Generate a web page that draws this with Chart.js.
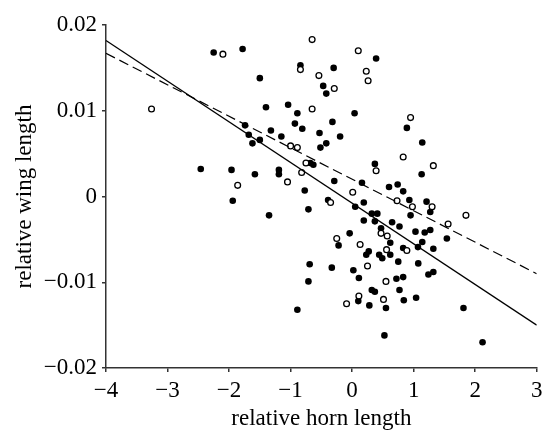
<!DOCTYPE html>
<html>
<head>
<meta charset="utf-8">
<script src="https://cdn.jsdelivr.net/npm/chart.js@4"></script>
<style>
  html, body { margin: 0; padding: 0; background: #fff; }
  #c { display: block; }
</style>
</head>
<body>
<canvas id="c" width="542" height="430"></canvas>
<script>
// filled circles
const filledX = [-2.25, -1.78, -1.50, -1.40, -1.04, -0.89, -0.93, -0.81, -1.74, -1.68,
  -1.62, -1.50, -1.32, -1.15, -2.46, -1.96, -1.58, -1.19, -1.19, -0.77,
  -1.94, -0.68, -0.63, -0.84, 0.39, -0.30, -0.47, -0.42, -0.32, 0.04,
  -0.53, -0.195, -0.42, -0.515, -0.29, 0.37, 0.16, 0.60, -0.39, 0.89,
  1.14, 1.13, 0.74, 0.83, 0.93, 1.21, 0.19, 0.05, -0.71, -1.35,
  -0.69, -0.71, -0.89, 0.32, 0.41, 0.95, 0.19, 0.37, 0.65, 0.77,
  0.47, 1.03, 1.18, 1.27, -0.04, -0.22, 0.62, 1.54, 1.14, 0.83,
  1.07, 1.32, 0.27, 0.23, 0.44, 0.49, 0.62, 0.75, 1.075, -0.33,
  0.02, 0.11, 0.72, 0.83, 1.24, 1.32, 0.32, 0.37, 0.77, 1.04,
  0.84, 0.10, 0.28, 0.55, 1.81, 0.525, 2.12, 1.27];
const filledY = [0.0168, 0.0172, 0.0138, 0.0104, 0.0107, 0.0097, 0.0085, 0.0079, 0.0083, 0.0072,
  0.0062, 0.0066, 0.0077, 0.0070, 0.0032, 0.0031, 0.0026, 0.0031, 0.0026, 0.0007,
  -0.0005, 0.0039, 0.0037, 0.0153, 0.0161, 0.0150, 0.0129, 0.0120, 0.0087, 0.0097,
  0.0074, 0.0070, 0.0062, 0.0057, 0.0018, 0.0038, 0.0016, 0.0011, -0.0004, 0.0080,
  0.0063, 0.0026, 0.0014, 0.0006, -0.0004, -0.0006, -0.0007, -0.0012, -0.0015, -0.0022,
  -0.0079, -0.0099, -0.0132, -0.0020, -0.0020, -0.0022, -0.0028, -0.0029, -0.0030, -0.0035,
  -0.0037, -0.0041, -0.0042, -0.0039, -0.0043, -0.0057, -0.0054, -0.0049, -0.0053, -0.0060,
  -0.0059, -0.0061, -0.0064, -0.0068, -0.0068, -0.0072, -0.0068, -0.0076, -0.0078, -0.0083,
  -0.0086, -0.0095, -0.0096, -0.0094, -0.0091, -0.0088, -0.0109, -0.0111, -0.0109, -0.0118,
  -0.0121, -0.0122, -0.0127, -0.0130, -0.0130, -0.0162, -0.0170, -0.0018];

// open circles
const openX = [-3.26, -2.10, -1.00, -0.89, -1.86, -1.05, -0.82, -0.75, -0.65, -0.84,
  0.10, -0.54, 0.23, 0.26, -0.29, -0.65, 0.95, 0.83, 1.32, 0.39,
  0.01, 0.73, 0.98, 1.30, -0.35, 1.85, 1.56, 0.47, 0.57, -0.25,
  0.13, 0.56, 0.89, 0.25, 0.55, 0.11, -0.09, 0.51];
const openY = [0.0102, 0.0166, 0.0059, 0.0057, 0.0013, 0.0017, 0.0028, 0.0039, 0.0183, 0.0148,
  0.0170, 0.0141, 0.0146, 0.0135, 0.0126, 0.0102, 0.0092, 0.0046, 0.0036, 0.0030,
  0.0005, -0.0005, -0.0012, -0.0012, -0.0007, -0.0022, -0.0032, -0.0043, -0.0046, -0.0049,
  -0.0056, -0.0062, -0.0063, -0.0081, -0.0099, -0.0116, -0.0125, -0.0120];

// fitted lines (ends at x = -4 and x = 3)
const fitX = [-4, 3];
const solidFitY = [0.0182, -0.0150];
const dashedFitY = [0.0167, -0.0090];

const xTicks = [-4, -3, -2, -1, 0, 1, 2, 3];
const yTicks = [-0.02, -0.01, 0, 0.01, 0.02];

const pts = (xs, ys) => xs.map((x, i) => ({ x, y: ys[i] }));
const minus = s => String(s).replace('-', '\u2212');
const serif = { family: '"Liberation Serif", "DejaVu Serif", serif', size: 23 };

new Chart(document.getElementById('c'), {
  type: 'scatter',
  data: {
    datasets: [
      { data: pts(fitX, solidFitY), showLine: true, borderColor: '#000', borderWidth: 1.2, pointRadius: 0 },
      { data: pts(fitX, dashedFitY), showLine: true, borderColor: '#000', borderWidth: 1.2, borderDash: [10, 5], pointRadius: 0 },
      { data: pts(openX, openY), pointRadius: 2.9, pointBorderWidth: 1.3, pointBackgroundColor: '#fff', pointBorderColor: '#000' },
      { data: pts(filledX, filledY), pointRadius: 3.3, pointBorderWidth: 0, pointBackgroundColor: '#000', pointBorderColor: '#000' }
    ]
  },
  options: {
    responsive: false,
    animation: false,
    layout: { padding: { top: 25, right: 5, left: 0, bottom: 0 } },
    plugins: { legend: { display: false }, tooltip: { enabled: false } },
    scales: {
      x: {
        type: 'linear', min: -4, max: 3,
        afterBuildTicks: s => { s.ticks = xTicks.map(v => ({ value: v })); },
        afterFit: s => { s.height = 62; s.paddingLeft = 0; s.paddingRight = 0; },
        border: { display: true, color: '#333', width: 1.5 },
        grid: { drawOnChartArea: false, drawTicks: true, tickLength: 4, color: '#333', lineWidth: 1.5 },
        ticks: { color: '#000', font: serif, padding: 5, maxRotation: 0, callback: v => minus(v) },
        title: { display: true, text: 'relative horn length', color: '#000', font: { ...serif, lineHeight: 1 }, padding: { top: 0, bottom: 0 } }
      },
      y: {
        type: 'linear', min: -0.02, max: 0.02,
        afterBuildTicks: s => { s.ticks = yTicks.map(v => ({ value: v })); },
        afterFit: s => { s.width = 106; },
        border: { display: true, color: '#333', width: 1.5 },
        grid: { drawOnChartArea: false, drawTicks: true, tickLength: 4, color: '#333', lineWidth: 1.5 },
        ticks: {
          color: '#000', font: serif, padding: 5,
          callback: v => { const r = Math.round(v * 100) / 100; return r === 0 ? '0' : minus(r.toFixed(2)); }
        },
        title: { display: true, text: 'relative wing length', color: '#000', font: { ...serif, lineHeight: 1 }, padding: { top: 13, bottom: 0 } }
      }
    }
  }
});
</script>
</body>
</html>
